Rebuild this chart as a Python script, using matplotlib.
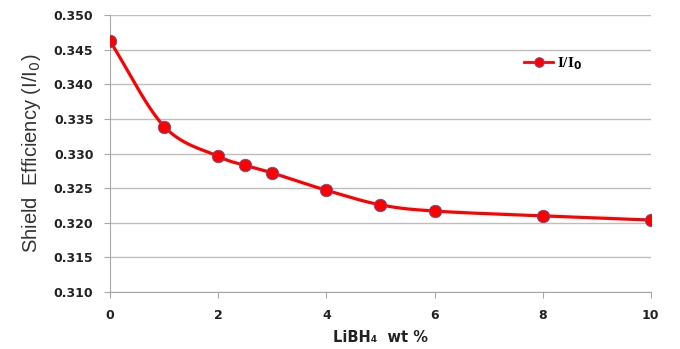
import numpy as np
import matplotlib
matplotlib.use("Agg")
import matplotlib.pyplot as plt

wt = [0, 1, 2, 2.5, 3, 4, 5, 6, 8, 10]
ratio = [0.3462, 0.3339, 0.3296, 0.3283, 0.3272, 0.3247, 0.3226, 0.3217, 0.3210, 0.3204]
y_ticks = [0.310, 0.315, 0.320, 0.325, 0.330, 0.335, 0.340, 0.345, 0.350]
x_ticks = [0, 2, 4, 6, 8, 10]


def smooth(xs, ys, n=30):
    # Catmull-Rom style smoothing like the spreadsheet "smoothed line"
    xs = np.asarray(xs, float)
    ys = np.asarray(ys, float)
    px = np.concatenate([[2 * xs[0] - xs[1]], xs, [2 * xs[-1] - xs[-2]]])
    py = np.concatenate([[2 * ys[0] - ys[1]], ys, [2 * ys[-1] - ys[-2]]])
    ox, oy = [], []
    t = np.linspace(0, 1, n)
    for i in range(1, len(px) - 2):
        for p, out in ((px, ox), (py, oy)):
            p0, p1, p2, p3 = p[i - 1], p[i], p[i + 1], p[i + 2]
            out.extend(0.5 * (2 * p1 + (-p0 + p2) * t
                              + (2 * p0 - 5 * p1 + 4 * p2 - p3) * t ** 2
                              + (-p0 + 3 * p1 - 3 * p2 + p3) * t ** 3))
    return ox, oy


fig = plt.figure(figsize=(6.8, 3.49), dpi=100)
ax = fig.add_axes([0.162, 0.163, 0.795, 0.794])

sx, sy = smooth(wt, ratio)
ax.plot(sx, sy, color="#ff0000", lw=2.3, zorder=3)
ax.plot(wt, ratio, "o", color="#ff0000", ms=9, mec="#5a5a9a", mew=0.6, zorder=4)
ax.plot([], [], "-o", color="#ff0000", lw=2, ms=7, mec="#5a5a9a", mew=0.6, label="I/I$_\\mathbf{0}$")

ax.set_xlim(0, 10)
ax.set_ylim(0.310, 0.350)
ax.set_xticks(x_ticks)
ax.set_yticks(y_ticks)
ax.set_xticklabels([str(v) for v in x_ticks], fontsize=9, fontweight="bold", color="#222222")
ax.set_yticklabels([f"{v:.3f}" for v in y_ticks], fontsize=9, fontweight="bold", color="#222222")
ax.yaxis.grid(True, color="#bdbdbd", lw=1)
ax.set_axisbelow(True)
for s in ["top", "right"]:
    ax.spines[s].set_visible(False)
for s in ["left", "bottom"]:
    ax.spines[s].set_color("#a8a8a8")
ax.tick_params(axis="both", color="#a8a8a8", length=4, pad=8)

ax.set_xlabel("LiBH\u2084  wt %", fontsize=10.5, fontweight="bold", color="#222222", labelpad=6)
ax.set_ylabel("Shield  Efficiency (I/I$_0$)", fontsize=14.5, color="#333333", labelpad=8,
              family="Liberation Sans")

leg = ax.legend(loc="upper left", bbox_to_anchor=(0.755, 0.875), frameon=False,
                handlelength=1.9, borderaxespad=0, handletextpad=0.25,
                prop={"family": "Liberation Serif", "weight": "bold", "size": 11})

fig.savefig("out.png", dpi=100)
